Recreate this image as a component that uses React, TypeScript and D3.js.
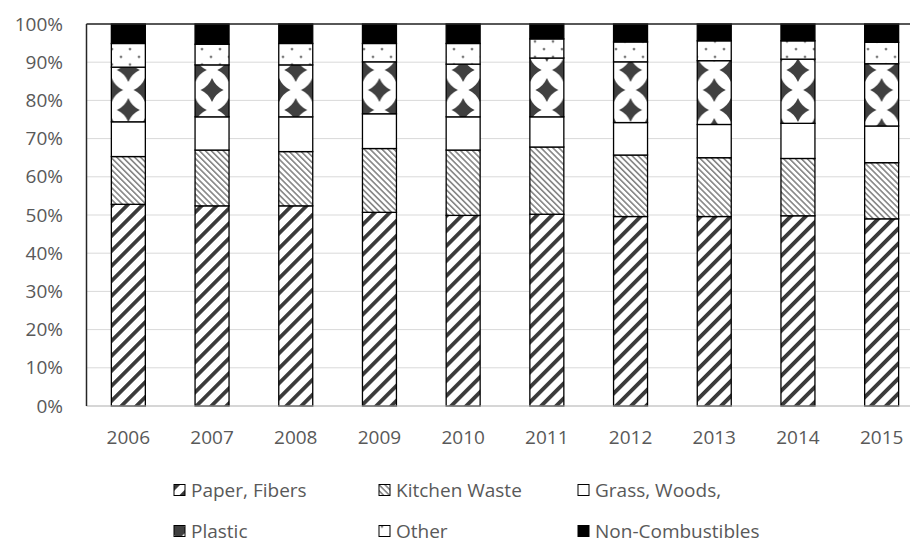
import React from 'react';
import * as d3 from 'd3';

const years = ['2006', '2007', '2008', '2009', '2010', '2011', '2012', '2013', '2014', '2015'];
const paper = [52.8, 52.4, 52.4, 50.7, 49.9, 50.2, 49.6, 49.6, 49.8, 49.0];
const kitchen = [12.5, 14.6, 14.2, 16.7, 17.1, 17.6, 16.1, 15.4, 15.0, 14.7];
const grass = [9.1, 8.7, 9.1, 9.1, 8.7, 7.9, 8.5, 8.7, 9.2, 9.6];
const plastic = [14.3, 13.6, 13.6, 13.6, 13.8, 15.4, 15.9, 16.7, 16.8, 16.3];
const other = [6.2, 5.4, 5.6, 4.8, 5.4, 5.0, 5.2, 5.2, 4.8, 5.6];
const nonComb = [5.1, 5.3, 5.1, 5.1, 5.1, 3.9, 4.7, 4.4, 4.4, 4.8];
const seriesNames = ['Paper, Fibers', 'Kitchen Waste', 'Grass, Woods,', 'Plastic', 'Other', 'Non-Combustibles'];
const yTicks = [0, 10, 20, 30, 40, 50, 60, 70, 80, 90, 100];

const keys = ['paper', 'kitchen', 'grass', 'plastic', 'other', 'nonComb'];
const fills = ['url(#pPaper)', 'url(#pKitchen)', '#ffffff', 'url(#pPlastic)', 'url(#pOther)', '#000000'];

export default function App() {
  const W = 910, H = 545;
  const left = 86.5, right = 923.5, top = 24, bottom = 406;
  const rows = years.map((y, i) => ({
    year: y, paper: paper[i], kitchen: kitchen[i], grass: grass[i],
    plastic: plastic[i], other: other[i], nonComb: nonComb[i],
  }));
  const stacked = d3.stack<any>().keys(keys)(rows);
  const x = d3.scaleBand<string>().domain(years).range([left, right]).paddingInner(0.594).paddingOuter(0.297);
  const y = d3.scaleLinear().domain([0, 100]).range([bottom, top]);
  const font = '"Open Sans", sans-serif';
  const textColor = '#595959';

  const legendCols = [174, 379, 578];
  const legendRows = [490, 531];

  const pw = x.step() / 2.5;
  const ph = 40;
  const px0 = (x(years[0]) as number) + x.bandwidth() / 2 - pw / 2;

  const diamond = (cx: number, cy: number, hw: number, hh: number) => {
    const k = 0.3;
    return `M${cx - hw},${cy} Q${cx - hw * k},${cy - hh * k} ${cx},${cy - hh} Q${cx + hw * k},${cy - hh * k} ${cx + hw},${cy} Q${cx + hw * k},${cy + hh * k} ${cx},${cy + hh} Q${cx - hw * k},${cy + hh * k} ${cx - hw},${cy} Z`;
  };

  return (
    <svg width={W} height={H} style={{ position: 'absolute', left: 0, top: 0, background: '#fff' }}>
      <defs>
        <pattern id="pPaper" patternUnits="userSpaceOnUse" width={10.6} height={10.6} patternTransform="rotate(45)">
          <rect width={10.6} height={10.6} fill="#fff" />
          <rect x={0} y={0} width={3.8} height={10.6} fill="#3a3a3a" />
        </pattern>
        <pattern id="pKitchen" patternUnits="userSpaceOnUse" width={4.2} height={4.2} patternTransform="rotate(-45)">
          <rect width={4.2} height={4.2} fill="#fff" />
          <rect x={0} y={0} width={1.6} height={4.2} fill="#858585" />
        </pattern>
        <pattern id="pPlastic" patternUnits="userSpaceOnUse" width={pw} height={ph} x={px0} y={10}>
          <rect width={pw} height={ph} fill="#fff" />
          {[[0, 0], [pw, 0], [0, ph], [pw, ph], [pw / 2, ph / 2]].map(([cx, cy], i) => (
            <path key={i} d={diamond(cx, cy, 11.5, 12)} fill="#404040" />
          ))}
        </pattern>
        <pattern id="pOther" patternUnits="userSpaceOnUse" width={18} height={15.4}>
          <rect width={18} height={15.4} fill="#fff" />
          <circle cx={4} cy={3} r={1.4} fill="#7a7a7a" />
          <circle cx={13} cy={10.7} r={1.4} fill="#7a7a7a" />
        </pattern>
      </defs>

      {yTicks.map(t => (
        <line key={t} x1={left} x2={W} y1={y(t)} y2={y(t)} stroke="#d9d9d9" strokeWidth={1} />
      ))}

      {stacked.map((s, si) => (
        <g key={s.key}>
          {s.map((d, i) => (
            <rect key={i} x={x(years[i])} width={x.bandwidth()} y={y(d[1])} height={y(d[0]) - y(d[1])}
              fill={fills[si]} stroke="#000" strokeWidth={1.3} />
          ))}
        </g>
      ))}

      <line x1={left} x2={W} y1={bottom} y2={bottom} stroke="#bfbfbf" strokeWidth={1.2} />
      <line x1={left} x2={W} y1={top} y2={top} stroke="#262626" strokeWidth={1.5} />
      <line x1={left} x2={left} y1={top} y2={bottom} stroke="#262626" strokeWidth={1.5} />

      {yTicks.map(t => (
        <text key={t} x={63} y={y(t)} dy="0.35em" textAnchor="end" fontFamily={font} fontSize={19} fill={textColor}>{t}%</text>
      ))}
      {years.map(yr => (
        <text key={yr} x={(x(yr) as number) + x.bandwidth() / 2} y={437} dy="0.35em" textAnchor="middle" fontFamily={font} fontSize={19} fill={textColor}>{yr}</text>
      ))}

      {seriesNames.map((name, i) => {
        const cx = legendCols[i % 3];
        const cy = legendRows[Math.floor(i / 3)];
        return (
          <g key={name}>
            <rect x={cx} y={cy - 5.5} width={11} height={11} fill={fills[i]} stroke="#000" strokeWidth={1} />
            <text x={cx + 17} y={cy} dy="0.35em" fontFamily={font} fontSize={19} fill={textColor}>{name}</text>
          </g>
        );
      })}
    </svg>
  );
}
